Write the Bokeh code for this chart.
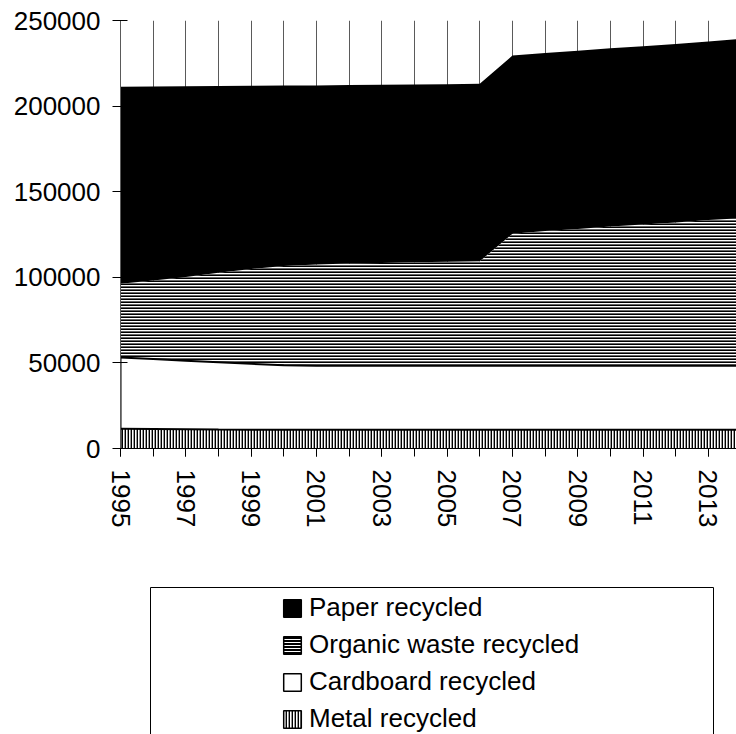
from bokeh.plotting import figure
from bokeh.models import (ColumnDataSource, Range1d, FixedTicker, Legend, LegendItem,
                          BasicTickFormatter, BoxAnnotation)
from bokeh.layouts import column
from bokeh.embed import file_html
from bokeh.resources import INLINE

# ---------------- data ----------------
years = [1995, 1996, 1997, 1998, 1999, 2000, 2001, 2002, 2003, 2004,
         2005, 2006, 2007, 2008, 2009, 2010, 2011, 2012, 2013, 2014]
metal = [11500, 11400, 11300, 11100, 11000, 11000, 11000, 11000, 11000, 11000,
         11000, 11000, 11000, 11000, 11000, 11000, 11000, 11000, 11000, 11000]
cardboard = [41600, 40900, 40000, 39300, 38500, 37600, 37300, 37300, 37300, 37300,
             37300, 37300, 37300, 37300, 37300, 37300, 37300, 37300, 37300, 37300]
organic = [43200, 45900, 48900, 52200, 55300, 58000, 59200, 59700, 60100, 60500,
           60800, 61100, 77200, 78700, 79900, 81300, 82600, 83700, 85100, 86300]
paper = [115000, 113200, 111400, 109200, 107100, 105400, 104600, 104300, 104000, 103800,
         103700, 103600, 104000, 104000, 104200, 104200, 104100, 104300, 104400, 104600]

x_tick_years = [1995, 1997, 1999, 2001, 2003, 2005, 2007, 2009, 2011, 2013]
y_ticks = [0, 50000, 100000, 150000, 200000, 250000]
series_labels = ["Paper recycled", "Organic waste recycled", "Cardboard recycled", "Metal recycled"]

FONT = "Liberation Sans"

src = ColumnDataSource(dict(year=years, metal=metal, cardboard=cardboard,
                            organic=organic, paper=paper))

# ---------------- main chart ----------------
p = figure(width=736, height=560,
           x_range=Range1d(1995, 2013.86), y_range=Range1d(0, 250000),
           output_backend="svg", toolbar_location=None,
           min_border_left=120, min_border_right=0, min_border_top=20, min_border_bottom=112)
p.outline_line_color = None
p.background_fill_color = "white"

p.xgrid.ticker = FixedTicker(ticks=years)
p.xgrid.grid_line_color = "#5a5a5a"
p.xgrid.grid_line_width = 1
p.ygrid.ticker = FixedTicker(ticks=y_ticks)
p.ygrid.grid_line_color = "#5a5a5a"

stackers = ["metal", "cardboard", "organic", "paper"]
p.varea_stack(stackers=stackers, x="year", source=src,
              fill_color=["white", "white", "white", "black"],
              hatch_pattern=["vertical_line", None, "horizontal_line", None],
              hatch_color=["black", "black", "black", "black"],
              hatch_scale=[3, 3, 3, 3],
              hatch_weight=[1.8, 1, 2.2, 1])
p.vline_stack(stackers=["metal", "cardboard"], x="year", source=src,
              line_color="black", line_width=2)
p.segment(x0=[years[0]], y0=[0], x1=[years[0]], y1=[metal[0] + cardboard[0]],
          line_color="black", line_width=2)

xa = p.xaxis[0]
xa.ticker = FixedTicker(ticks=x_tick_years, minor_ticks=years)
xa.major_label_orientation = "vertical"
xa.major_label_text_font = FONT
xa.major_label_text_font_size = "26px"
xa.major_label_text_color = "black"
xa.axis_line_color = "black"
xa.major_tick_in = 0
xa.major_tick_out = 8
xa.minor_tick_in = 0
xa.minor_tick_out = 8
xa.minor_tick_line_color = "black"
xa.major_tick_line_color = "black"
xa.major_label_standoff = 13

ya = p.yaxis[0]
ya.ticker = FixedTicker(ticks=y_ticks)
ya.formatter = BasicTickFormatter(use_scientific=False)
ya.major_label_text_font = FONT
ya.major_label_text_font_size = "26px"
ya.major_label_text_color = "black"
ya.axis_line_color = "#5a5a5a"
ya.major_tick_in = 7
ya.major_tick_out = 8
ya.major_tick_line_color = "black"
ya.minor_tick_line_color = None
ya.major_label_standoff = 12

# ---------------- legend panel ----------------
p2 = figure(width=736, height=174, x_range=Range1d(0, 1), y_range=Range1d(0, 1),
            x_axis_type=None, y_axis_type=None,
            output_backend="svg", toolbar_location=None,
            min_border_left=120, min_border_right=0, min_border_top=23, min_border_bottom=0)
p2.outline_line_color = None
p2.background_fill_color = "white"

# frame spans page x 120..736, y 583..734; box spans x 150..713 from y 587 down past bottom
box = BoxAnnotation(left=30 / 616, right=593 / 616, top=1 - 4 / 151, bottom=-1,
                    fill_alpha=0, line_color="black", line_width=1, line_alpha=1)
p2.add_layout(box)

nan = float("nan")
styles = [
    dict(fill_color="black"),
    dict(fill_color="black", hatch_pattern="horizontal_line", hatch_color="white",
         hatch_scale=3, hatch_weight=1),
    dict(fill_color="white"),
    dict(fill_color="white", hatch_pattern="vertical_line", hatch_color="black",
         hatch_scale=3, hatch_weight=1.8),
]
items = []
for lab, st in zip(series_labels, styles):
    r = p2.quad(left=[nan], right=[nan], top=[nan], bottom=[nan],
                line_color="black", line_width=1.5, **st)
    items.append(LegendItem(label=lab, renderers=[r]))

legend = Legend(items=items, location=(152, -9),
                label_text_font=FONT, label_text_font_size="26px", label_text_color="black",
                glyph_width=22, glyph_height=22, label_standoff=6,
                spacing=6, padding=9, margin=0,
                border_line_alpha=0, background_fill_alpha=0)
p2.add_layout(legend)

layout = column(p, p2, spacing=0)
open("out.html", "w").write(file_html(layout, INLINE))
